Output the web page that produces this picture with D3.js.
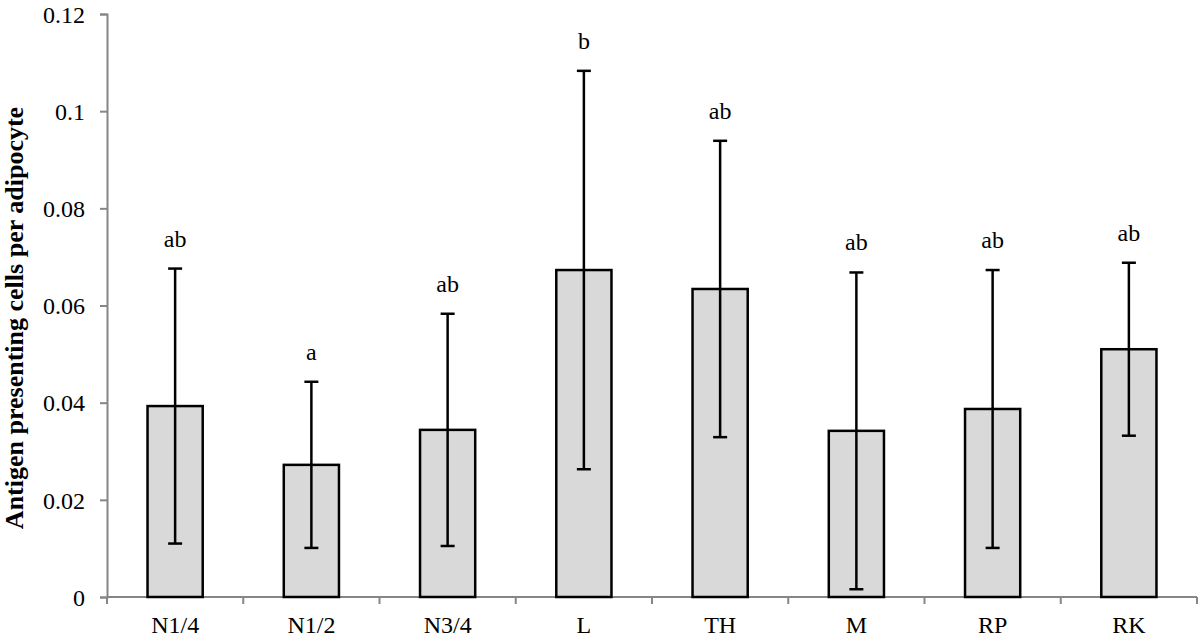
<!DOCTYPE html>
<html>
<head>
<meta charset="utf-8">
<script src="https://cdn.jsdelivr.net/npm/d3@7"></script>
<style>
	body { margin: 0; background: #fff; }
	svg text { font-family: 'Liberation Serif', 'Times New Roman', serif; fill: #000; }
	.axis path, .axis line { stroke: #868686; stroke-width: 2px; }
	.bar { fill: #d9d9d9; stroke: #000; stroke-width: 2.5px; }
	.err { stroke: #000; stroke-width: 2.5px; }
</style>
</head>
<body>
<script>
var categories = ['N1/4', 'N1/2', 'N3/4', 'L', 'TH', 'M', 'RP', 'RK'];
var means = [0.0393, 0.0272, 0.0344, 0.0673, 0.0634, 0.0342, 0.0387, 0.0510];
var errors = [0.0283, 0.0171, 0.0239, 0.0410, 0.0305, 0.0326, 0.0286, 0.0178];
var letters = ['ab', 'a', 'ab', 'b', 'ab', 'ab', 'ab', 'ab'];
var yTicks = [0, 0.02, 0.04, 0.06, 0.08, 0.1, 0.12];

var width = 1200, height = 639;
var plotLeft = 107, plotRight = 1197, plotTop = 14, plotBottom = 597;
var barFrac = 0.405, capHalf = 7;
var fontSize = '24px';

var svg = d3.select('body').append('svg')
	.attr('width', width)
	.attr('height', height);

var x = d3.scaleBand().domain(categories).range([plotLeft, plotRight]);
var y = d3.scaleLinear().domain([0, 0.12]).range([plotBottom, plotTop]);

// y axis
var yAxisEl = svg.append('g')
	.attr('class', 'axis')
	.attr('transform', 'translate(' + plotLeft + ',0)')
	.call(d3.axisLeft(y).tickValues(yTicks).tickSizeOuter(0).tickSize(7).tickPadding(15)
		.tickFormat(function (d) { return String(+d.toFixed(2)); }));
yAxisEl.selectAll('text').style('font-size', fontSize).attr('dy', '0.34em');

// x axis: labels centred, ticks on category boundaries
var xAxisEl = svg.append('g')
	.attr('class', 'axis')
	.attr('transform', 'translate(0,' + plotBottom + ')')
	.call(d3.axisBottom(x).tickSize(0).tickPadding(19));
xAxisEl.select('.domain').attr('d', 'M' + plotLeft + ',0H' + plotRight);
xAxisEl.selectAll('text').style('font-size', fontSize);
var bounds = categories.map(function (c) { return x(c); }).concat([plotRight]);
xAxisEl.selectAll('.bound').data(bounds).enter().append('line')
	.attr('class', 'bound')
	.attr('x1', function (d) { return d; }).attr('x2', function (d) { return d; })
	.attr('y1', 0).attr('y2', 7);

// y title
svg.append('text')
	.attr('transform', 'translate(23,318) rotate(-90)')
	.attr('text-anchor', 'middle')
	.style('font-size', '26px')
	.style('font-weight', 'bold')
	.text('Antigen presenting cells per adipocyte');

var bw = x.bandwidth() * barFrac;
var cx = function (i) { return x(categories[i]) + x.bandwidth() / 2; };

// bars
svg.selectAll('.bar').data(means).enter().append('rect')
	.attr('class', 'bar')
	.attr('x', function (d, i) { return cx(i) - bw / 2; })
	.attr('y', function (d) { return y(d); })
	.attr('width', bw)
	.attr('height', function (d) { return plotBottom - y(d); });

// error bars
var errG = svg.selectAll('.errg').data(means).enter().append('g');
errG.append('line').attr('class', 'err')
	.attr('x1', function (d, i) { return cx(i); }).attr('x2', function (d, i) { return cx(i); })
	.attr('y1', function (d, i) { return y(d + errors[i]); })
	.attr('y2', function (d, i) { return y(d - errors[i]); });
errG.append('line').attr('class', 'err')
	.attr('x1', function (d, i) { return cx(i) - capHalf; }).attr('x2', function (d, i) { return cx(i) + capHalf; })
	.attr('y1', function (d, i) { return y(d + errors[i]); })
	.attr('y2', function (d, i) { return y(d + errors[i]); });
errG.append('line').attr('class', 'err')
	.attr('x1', function (d, i) { return cx(i) - capHalf; }).attr('x2', function (d, i) { return cx(i) + capHalf; })
	.attr('y1', function (d, i) { return y(d - errors[i]); })
	.attr('y2', function (d, i) { return y(d - errors[i]); });

// significance letters
svg.selectAll('.letter').data(letters).enter().append('text')
	.attr('class', 'letter')
	.attr('x', function (d, i) { return cx(i); })
	.attr('y', function (d, i) { return y(means[i] + errors[i]) - 22; })
	.attr('text-anchor', 'middle')
	.style('font-size', fontSize)
	.text(function (d) { return d; });
</script>
</body>
</html>
